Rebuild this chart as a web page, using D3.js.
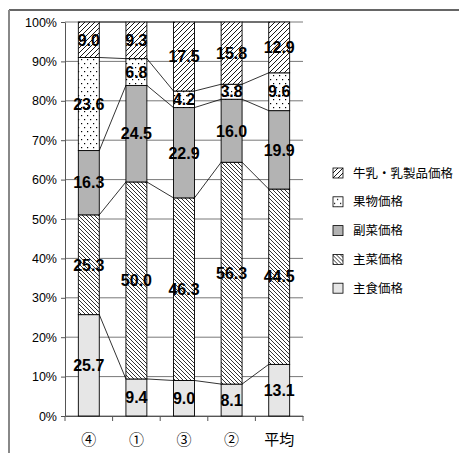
<!DOCTYPE html>
<html>
<head>
<meta charset="utf-8">
<script src="https://cdn.jsdelivr.net/npm/d3@7"></script>
<style>
  body { margin: 0; background: #fff; }
  svg { display: block; }
</style>
</head>
<body>
<div id="chart"></div>
<script>
// categories and series
var categories = ["④", "①", "③", "②", "平均"]
var seriesNames = ["主食価格", "主菜価格", "副菜価格", "果物価格", "牛乳・乳製品価格"]
var shushoku = [25.7, 9.4, 9.0, 8.1, 13.1]
var shusai = [25.3, 50.0, 46.3, 56.3, 44.5]
var fukusai = [16.3, 24.5, 22.9, 16.0, 19.9]
var kudamono = [23.6, 6.8, 4.2, 3.8, 9.6]
var gyunyu = [9.0, 9.3, 17.5, 15.8, 12.9]
var yTicks = [0, 0.1, 0.2, 0.3, 0.4, 0.5, 0.6, 0.7, 0.8, 0.9, 1]

var seriesValues = [shushoku, shusai, fukusai, kudamono, gyunyu]
var fills = ["#e6e6e6", "url(#hatchBack)", "#b3b3b3", "url(#dots)", "url(#hatchFwd)"]

var W = 459, H = 453
var margin = { top: 22, left: 65 },
  width = 238,
  height = 394

var svg = d3.select("#chart")
  .append("svg")
  .attr("width", W)
  .attr("height", H)

// patterns
var defs = svg.append("defs")
var p1 = defs.append("pattern")
  .attr("id", "hatchFwd")
  .attr("patternUnits", "userSpaceOnUse")
  .attr("width", 5).attr("height", 5)
p1.append("rect").attr("width", 5).attr("height", 5).attr("fill", "#fff")
p1.append("path").attr("d", "M-1,1 l2,-2 M0,5 l5,-5 M4,6 l2,-2")
  .attr("stroke", "#000").attr("stroke-width", 0.9)

var p2 = defs.append("pattern")
  .attr("id", "hatchBack")
  .attr("patternUnits", "userSpaceOnUse")
  .attr("width", 4).attr("height", 4)
p2.append("rect").attr("width", 4).attr("height", 4).attr("fill", "#fff")
p2.append("path").attr("d", "M-1,3 l2,2 M0,0 l4,4 M3,-1 l2,2")
  .attr("stroke", "#000").attr("stroke-width", 0.8)

var p3 = defs.append("pattern")
  .attr("id", "dots")
  .attr("patternUnits", "userSpaceOnUse")
  .attr("width", 6).attr("height", 8)
p3.append("rect").attr("width", 6).attr("height", 8).attr("fill", "#fff")
p3.append("rect").attr("x", 1).attr("y", 1).attr("width", 1.2).attr("height", 1.2).attr("fill", "#000")
p3.append("rect").attr("x", 4).attr("y", 5).attr("width", 1.2).attr("height", 1.2).attr("fill", "#000")

// outer frame
svg.append("line").attr("x1", 9).attr("y1", 10).attr("x2", W).attr("y2", 10)
  .attr("stroke", "#333").attr("stroke-width", 1.5)
svg.append("line").attr("x1", 9).attr("y1", 10).attr("x2", 9).attr("y2", H)
  .attr("stroke", "#888").attr("stroke-width", 2)

var g = svg.append("g")
  .attr("transform", "translate(" + margin.left + "," + margin.top + ")")

// table for stacking
var table = categories.map(function (c, i) {
  var row = { cat: c }
  seriesNames.forEach(function (s, j) { row[s] = seriesValues[j][i] })
  return row
})

var stacked = d3.stack()
  .keys(seriesNames)
  .offset(d3.stackOffsetExpand)(table)

var x = d3.scaleBand()
  .domain(categories)
  .range([0, width])

var y = d3.scaleLinear()
  .domain([0, 1])
  .range([height, 0])

var barW = x.bandwidth() * 0.44
function barX(c) { return x(c) + (x.bandwidth() - barW) / 2 }

// gridlines
g.selectAll(".grid")
  .data(yTicks)
  .enter()
  .append("line")
  .attr("x1", 0).attr("x2", width)
  .attr("y1", function (d) { return y(d) })
  .attr("y2", function (d) { return y(d) })
  .attr("stroke", "#555")
  .attr("stroke-width", 0.8)

// y axis
var yAxis = g.append("g")
  .call(d3.axisLeft(y).tickValues(yTicks).tickFormat(d3.format(".0%")).tickSize(4).tickSizeOuter(0))
yAxis.select(".domain").attr("stroke", "#555")
yAxis.selectAll(".tick line").attr("stroke", "#555")
yAxis.selectAll("text")
  .attr("font-family", "Liberation Sans, Arial, sans-serif")
  .attr("font-size", 12.5)
  .attr("fill", "#000")
  .attr("x", -8)

// x axis
var xAxis = g.append("g")
  .attr("transform", "translate(0," + height + ")")
  .call(d3.axisBottom(x).tickSize(0).tickSizeOuter(0))
xAxis.select(".domain").attr("stroke", "#555")
xAxis.selectAll("text")
  .attr("font-family", "Noto Sans CJK JP, sans-serif")
  .attr("font-size", 15)
  .attr("fill", "#000")
  .attr("dy", "1.72em")
xAxis.selectAll(".sep")
  .data(d3.range(categories.length + 1))
  .enter()
  .append("line")
  .attr("x1", function (i) { return i * x.step() })
  .attr("x2", function (i) { return i * x.step() })
  .attr("y1", 0).attr("y2", 5)
  .attr("stroke", "#555")

// bars
var layers = g.selectAll(".layer")
  .data(stacked)
  .enter()
  .append("g")
  .attr("fill", function (d, i) { return fills[i] })

layers.selectAll("rect")
  .data(function (d) { return d })
  .enter()
  .append("rect")
  .attr("x", function (d) { return barX(d.data.cat) })
  .attr("y", function (d) { return y(d[1]) })
  .attr("width", barW)
  .attr("height", function (d) { return y(d[0]) - y(d[1]) })
  .attr("stroke", "#000")
  .attr("stroke-width", 0.9)

// series lines
stacked.forEach(function (layer) {
  for (var i = 0; i < layer.length - 1; i++) {
    g.append("line")
      .attr("x1", barX(layer[i].data.cat) + barW)
      .attr("y1", y(layer[i][1]))
      .attr("x2", barX(layer[i + 1].data.cat))
      .attr("y2", y(layer[i + 1][1]))
      .attr("stroke", "#000")
      .attr("stroke-width", 0.8)
  }
})

// value labels
stacked.forEach(function (layer, j) {
  layer.forEach(function (d, i) {
    g.append("text")
      .attr("x", barX(d.data.cat) + barW / 2)
      .attr("y", (y(d[0]) + y(d[1])) / 2)
      .attr("dy", "0.36em")
      .attr("text-anchor", "middle")
      .attr("font-family", "Liberation Sans, Arial, sans-serif")
      .attr("font-weight", "bold")
      .attr("font-size", 16)
      .attr("fill", "#000")
      .text(seriesValues[j][i].toFixed(1))
  })
})

// legend (top = last series)
var legend = svg.append("g")
  .attr("transform", "translate(333,173)")
var order = d3.range(seriesNames.length).reverse()
order.forEach(function (j, k) {
  var row = legend.append("g")
    .attr("transform", "translate(0," + (k * 28.8) + ")")
  row.append("rect")
    .attr("x", 0).attr("y", -5)
    .attr("width", 10).attr("height", 10)
    .attr("fill", fills[j])
    .attr("stroke", "#000")
    .attr("stroke-width", 0.8)
  row.append("text")
    .attr("x", 20)
    .attr("y", 0)
    .attr("dy", "0.36em")
    .attr("font-family", "Noto Sans CJK JP, sans-serif")
    .attr("font-size", 12.5)
    .attr("fill", "#000")
    .text(seriesNames[j])
})
</script>
</body>
</html>
